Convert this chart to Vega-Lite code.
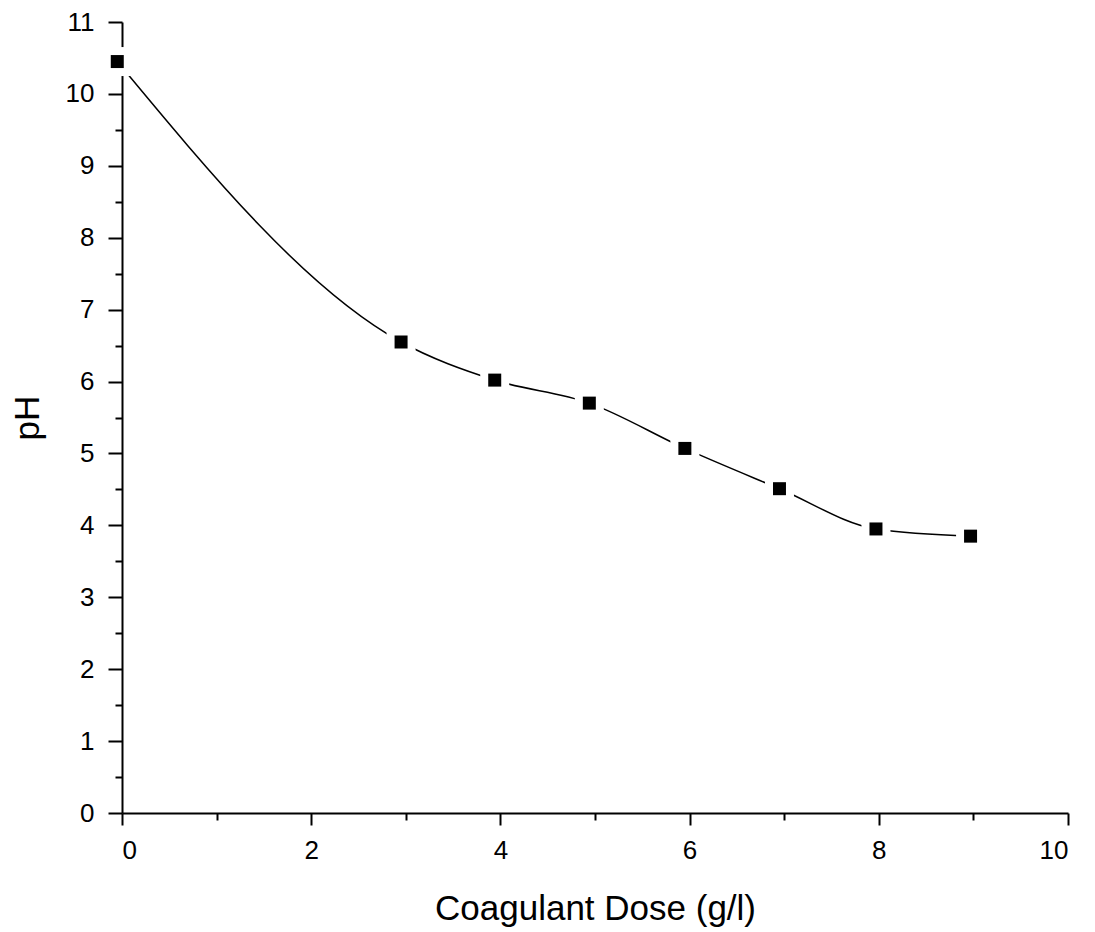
{
  "$schema": "https://vega.github.io/schema/vega-lite/v6.json",
  "autosize": "none",
  "width": 946,
  "height": 791,
  "padding": {"left": 122, "top": 22, "right": 27, "bottom": 119},
  "background": "white",
  "config": {
    "view": {"stroke": null},
    "axis": {
      "domainColor": "black", "domainWidth": 2, "tickColor": "black", "tickWidth": 2,
      "labelFont": "Liberation Sans", "labelFontSize": 26, "labelColor": "black",
      "titleFont": "Liberation Sans", "titleFontWeight": "normal", "titleColor": "black", "titleFontSize": 35,
      "grid": false, "labelOverlap": false
    }
  },
  "data": {"values": [
    {"dose": -0.05, "pH": 10.45},
    {"dose": 2.95, "pH": 6.55},
    {"dose": 3.94, "pH": 6.02},
    {"dose": 4.94, "pH": 5.70},
    {"dose": 5.95, "pH": 5.07},
    {"dose": 6.95, "pH": 4.51},
    {"dose": 7.97, "pH": 3.95},
    {"dose": 8.97, "pH": 3.85}
  ]},
  "encoding": {
    "x": {"field": "dose", "type": "quantitative", "scale": {"domain": [0, 10], "nice": false, "zero": false},
      "axis": {"values": [0,1,2,3,4,5,6,7,8,9,10],
        "tickSize": {"condition": {"test": "datum.value % 2 === 0", "value": 12}, "value": 7},
        "labelExpr": "datum.value % 2 === 0 ? format(datum.value, 'd') : ''",
        "labelPadding": 12, "title": "Coagulant Dose (g/l)", "titlePadding": 28}},
    "y": {"field": "pH", "type": "quantitative", "scale": {"domain": [0, 11], "nice": false},
      "axis": {"values": [0,0.5,1,1.5,2,2.5,3,3.5,4,4.5,5,5.5,6,6.5,7,7.5,8,8.5,9,9.5,10,10.5,11],
        "tickSize": {"condition": {"test": "datum.value % 1 === 0", "value": 14}, "value": 7},
        "labelExpr": "datum.value % 1 === 0 ? format(datum.value, 'd') : ''",
        "labelPadding": 14, "title": "pH", "titlePadding": 20}}
  },
  "layer": [
    {
      "mark": {"type": "line", "interpolate": "monotone", "color": "black", "strokeWidth": 1.5, "clip": false}
    },
    {
      "mark": {"type": "square", "filled": true, "color": "white", "size": 841, "opacity": 1, "clip": false}
    },
    {
      "mark": {"type": "square", "filled": true, "color": "black", "size": 169, "opacity": 1, "clip": false}
    }
  ]
}
